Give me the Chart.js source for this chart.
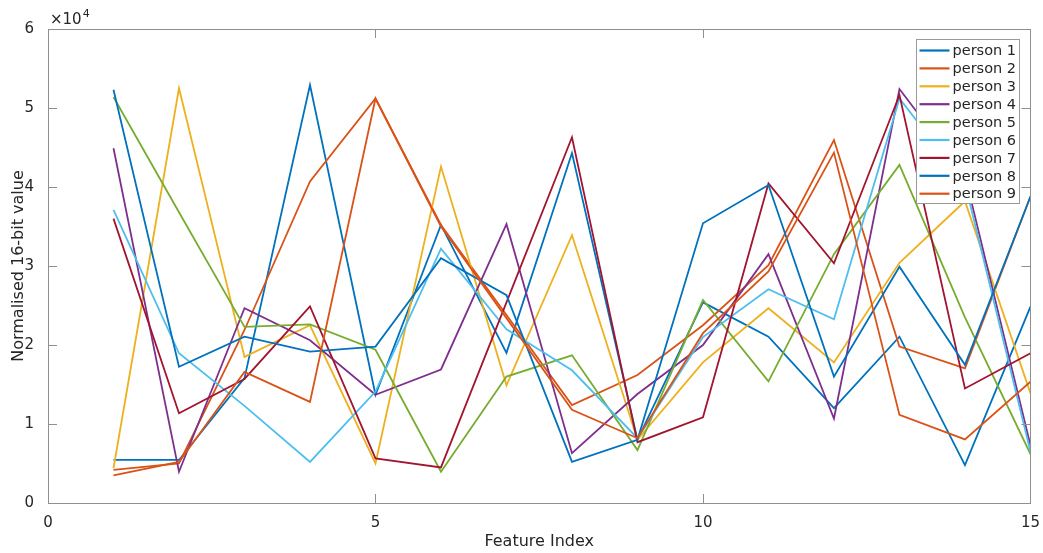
<!DOCTYPE html>
<html>
<head>
<meta charset="utf-8">
<script src="https://cdn.jsdelivr.net/npm/chart.js@4.4.1/dist/chart.umd.min.js"></script>
<style>
  html, body { margin: 0; padding: 0; background: #ffffff; }
  #wrap { width: 1043px; height: 553px; position: relative; }
</style>
</head>
<body>
<div id="wrap"><canvas id="c" width="1043" height="553"></canvas></div>
<script>
// ---- data ----
const featureIndex = [1, 2, 3, 4, 5, 6, 7, 8, 9, 10, 11, 12, 13, 14, 15];
const seriesNames = ['person 1', 'person 2', 'person 3', 'person 4', 'person 5', 'person 6', 'person 7', 'person 8', 'person 9'];
const person1 = [5450, 5450, 15800, 52900, 13700, 35200, 19000, 44300, 8000, 25400, 21050, 12000, 21050, 4800, 24850];
const person2 = [4200, 5000, 21900, 40700, 51200, 35200, 23800, 12400, 16200, 22500, 30100, 45950, 19800, 17050, 38800];
const person3 = [4400, 52500, 18500, 22500, 5000, 42600, 14900, 33900, 8000, 17800, 24650, 17800, 30400, 38200, 13900];
const person4 = [44900, 3960, 24650, 20600, 13700, 16900, 35300, 6300, 13800, 20000, 31500, 10700, 52400, 41500, 7300];
const person5 = [51400, 36800, 22300, 22600, 19400, 3960, 16000, 18700, 6700, 25700, 15400, 31500, 42800, 23500, 6200];
const person6 = [37100, 18950, 12300, 5200, 14100, 32200, 22000, 16800, 8200, 21000, 27050, 23250, 51200, 40500, 6500];
const person7 = [36000, 11350, 15700, 24900, 5650, 4500, 25400, 46300, 7700, 10850, 40450, 30350, 51650, 14500, 18950];
const person8 = [52300, 17250, 21050, 19150, 19800, 31000, 26300, 5200, 8000, 35400, 40250, 16000, 29900, 17500, 38800];
const person9 = [3500, 5200, 16600, 12800, 51200, 35000, 23400, 11800, 8200, 21500, 29300, 44350, 11150, 8050, 15350];
const xTickValues = [0, 5, 10, 15];
const yTickValues = [0, 10000, 20000, 30000, 40000, 50000, 60000];
const yTickLabels = ['0', '1', '2', '3', '4', '5', '6'];
const xTitle = 'Feature Index';
const yTitle = 'Normalised 16-bit value';
const exponentBase = '\u00d710';
const exponentPower = '4';

// ---- styling ----
const palette = ['#0072BD', '#D95319', '#EDB120', '#7E2F8E', '#77AC30', '#4DBEEE', '#A2142F', '#0072BD', '#D95319'];
const FONT = '"DejaVu Sans", "Liberation Sans", sans-serif';
const TEXT = '#262626';
const AXIS = '#8f8f8f';

const allSeries = [person1, person2, person3, person4, person5, person6, person7, person8, person9];
const datasets = allSeries.map((vals, i) => ({
  label: seriesNames[i],
  data: vals.map((v, k) => ({ x: featureIndex[k], y: v })),
  borderColor: palette[i],
  backgroundColor: palette[i],
  borderWidth: 1.8,
  pointRadius: 0,
  tension: 0,
  fill: false,
  order: allSeries.length - i   // later persons drawn on top, like MATLAB
}));

const boxAndTicks = {
  id: 'boxAndTicks',
  afterDraw(chart) {
    const { ctx, chartArea: a, scales } = chart;
    const L = 9;
    ctx.save();
    ctx.strokeStyle = AXIS;
    ctx.lineWidth = 1;
    ctx.strokeRect(Math.round(a.left) + 0.5, Math.round(a.top) + 0.5, Math.round(a.right - a.left), Math.round(a.bottom - a.top));
    ctx.beginPath();
    xTickValues.forEach(v => {
      const px = Math.round(scales.x.getPixelForValue(v)) + 0.5;
      ctx.moveTo(px, a.bottom); ctx.lineTo(px, a.bottom - L);
      ctx.moveTo(px, a.top); ctx.lineTo(px, a.top + L);
    });
    yTickValues.forEach(v => {
      const py = Math.round(scales.y.getPixelForValue(v)) + 0.5;
      ctx.moveTo(a.left, py); ctx.lineTo(a.left + L, py);
      ctx.moveTo(a.right, py); ctx.lineTo(a.right - L, py);
    });
    ctx.stroke();

    // exponent label
    ctx.fillStyle = TEXT;
    ctx.textBaseline = 'alphabetic';
    ctx.textAlign = 'left';
    ctx.font = '15px ' + FONT;
    const ex = a.left + 2, ey = a.top - 5;
    ctx.fillText(exponentBase, ex, ey);
    const w = ctx.measureText(exponentBase).width;
    ctx.font = '11px ' + FONT;
    ctx.fillText(exponentPower, ex + w + 1, ey - 7);

    // legend box
    const bw = 103, bh = 164;
    const bx = Math.round(a.right - 114) + 0.5, by = Math.round(a.top + 10) + 0.5;
    ctx.fillStyle = '#ffffff';
    ctx.fillRect(bx, by, bw, bh);
    ctx.strokeStyle = '#9a9a9a';
    ctx.strokeRect(bx, by, bw, bh);
    ctx.font = '14.5px ' + FONT;
    ctx.textBaseline = 'middle';
    chart.data.datasets.forEach((ds, i) => {
      const cy = by + 11 + i * 17.9;
      ctx.strokeStyle = ds.borderColor;
      ctx.lineWidth = 2.2;
      ctx.beginPath();
      ctx.moveTo(bx + 3, cy); ctx.lineTo(bx + 33, cy);
      ctx.stroke();
      ctx.fillStyle = TEXT;
      ctx.fillText(ds.label, bx + 36, cy + 1);
    });
    ctx.restore();
  }
};

new Chart(document.getElementById('c'), {
  type: 'line',
  data: { datasets },
  options: {
    responsive: false,
    animation: false,
    layout: { padding: { top: 29, right: 5, left: 0, bottom: 0 } },
    plugins: { legend: { display: false }, tooltip: { enabled: false } },
    scales: {
      x: {
        type: 'linear', min: 0, max: 15,
        afterBuildTicks(scale) { scale.ticks = xTickValues.map(v => ({ value: v })); },
        afterFit(scale) { scale.height = 50; },
        grid: { display: false },
        border: { display: false },
        ticks: { color: TEXT, font: { family: FONT, size: 15 }, padding: 3, maxRotation: 0,
                 callback: v => String(v) },
        title: { display: true, text: xTitle, color: TEXT, font: { family: FONT, size: 16 },
                 padding: { top: 2, bottom: 2 } }
      },
      y: {
        type: 'linear', min: 0, max: 60000,
        afterBuildTicks(scale) { scale.ticks = yTickValues.map(v => ({ value: v })); },
        afterFit(scale) { scale.width = 48; },
        grid: { display: false },
        border: { display: false },
        ticks: { color: TEXT, font: { family: FONT, size: 15 }, padding: 6,
                 callback: (v) => yTickLabels[yTickValues.indexOf(v)] },
        title: { display: true, text: yTitle, color: TEXT, font: { family: FONT, size: 16 },
                 padding: { top: 9, bottom: 0 } }
      }
    }
  },
  plugins: [boxAndTicks]
});
</script>
</body>
</html>
